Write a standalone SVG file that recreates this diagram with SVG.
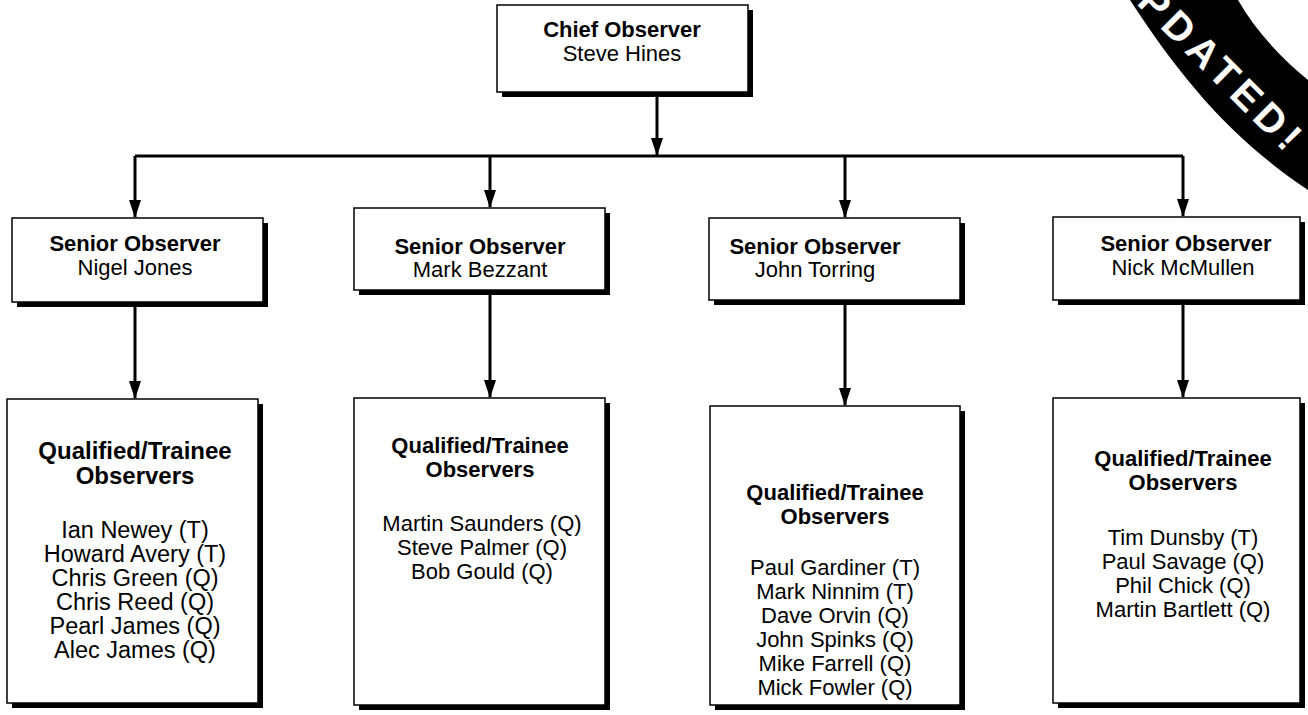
<svg xmlns="http://www.w3.org/2000/svg" width="1308" height="715" viewBox="0 0 1308 715">
<defs>
<marker id="ah" viewBox="0 0 18 12" refX="17" refY="6" markerWidth="18" markerHeight="12" markerUnits="userSpaceOnUse" orient="auto">
<path d="M0,0 L18,6 L0,12 Z" fill="#000"/>
</marker>
<style>
.box{fill:#fff;stroke:#000;stroke-width:1.5}
.sh{fill:#000}
.t{font-family:"Liberation Sans",Arial,sans-serif;font-size:22px;fill:#000;text-anchor:middle}
.b{font-weight:bold}
.big{font-size:23.5px}
.bigb{font-size:24px}
.c{fill:none;stroke:#000;stroke-width:3}
.ca{fill:none;stroke:#000;stroke-width:3;marker-end:url(#ah)}
</style>
</defs>
<rect width="1308" height="715" fill="#fff"/>
<g id="connectors">
<line class="ca" x1="657" y1="92" x2="657" y2="155"/>
<polyline class="c" points="135,156 1183,156"/>
<line class="ca" x1="135" y1="156" x2="135" y2="217"/>
<line class="ca" x1="490" y1="156" x2="490" y2="207"/>
<line class="ca" x1="845" y1="156" x2="845" y2="217"/>
<line class="ca" x1="1183" y1="156" x2="1183" y2="216"/>
<line class="ca" x1="135" y1="302" x2="135" y2="398"/>
<line class="ca" x1="490" y1="290" x2="490" y2="397"/>
<line class="ca" x1="845" y1="300" x2="845" y2="405"/>
<line class="ca" x1="1183" y1="300" x2="1183" y2="397"/>
</g>
<g id="chief">
<rect class="sh" x="502" y="10" width="251" height="87"/>
<rect class="box" x="497" y="5" width="251" height="87"/>
<text class="t b" x="622" y="37">Chief Observer</text>
<text class="t" x="622" y="61">Steve Hines</text>
</g>
<g id="senior1">
<rect class="sh" x="17" y="223" width="251" height="84"/>
<rect class="box" x="12" y="218" width="251" height="84"/>
<text class="t b" x="135" y="251">Senior Observer</text>
<text class="t" x="135" y="275">Nigel Jones</text>
</g>
<g id="senior2">
<rect class="sh" x="359" y="213" width="251" height="82"/>
<rect class="box" x="354" y="208" width="251" height="82"/>
<text class="t b" x="480" y="254">Senior Observer</text>
<text class="t" x="480" y="277">Mark Bezzant</text>
</g>
<g id="senior3">
<rect class="sh" x="714" y="223" width="251" height="82"/>
<rect class="box" x="709" y="218" width="251" height="82"/>
<text class="t b" x="815" y="254">Senior Observer</text>
<text class="t" x="815" y="277">John Torring</text>
</g>
<g id="senior4">
<rect class="sh" x="1058" y="222" width="247" height="83"/>
<rect class="box" x="1053" y="217" width="247" height="83"/>
<text class="t b" x="1186" y="251">Senior Observer</text>
<text class="t" x="1183" y="275">Nick McMullen</text>
</g>
<g id="team1">
<rect class="sh" x="12" y="404" width="251" height="304"/>
<rect class="box" x="7" y="399" width="251" height="304"/>
<text class="t b bigb" x="135" y="459">Qualified/Trainee</text>
<text class="t b bigb" x="135" y="484">Observers</text>
<text class="t big" x="135" y="538">Ian Newey (T)</text>
<text class="t big" x="135" y="562">Howard Avery (T)</text>
<text class="t big" x="135" y="586">Chris Green (Q)</text>
<text class="t big" x="135" y="610">Chris Reed (Q)</text>
<text class="t big" x="135" y="634">Pearl James (Q)</text>
<text class="t big" x="135" y="658">Alec James (Q)</text>
</g>
<g id="team2">
<rect class="sh" x="359" y="403" width="251" height="307"/>
<rect class="box" x="354" y="398" width="251" height="307"/>
<text class="t b" x="480" y="453">Qualified/Trainee</text>
<text class="t b" x="480" y="477">Observers</text>
<text class="t" x="482" y="531">Martin Saunders (Q)</text>
<text class="t" x="482" y="555">Steve Palmer (Q)</text>
<text class="t" x="482" y="579">Bob Gould (Q)</text>
</g>
<g id="team3">
<rect class="sh" x="715" y="411" width="250" height="299"/>
<rect class="box" x="710" y="406" width="250" height="299"/>
<text class="t b" x="835" y="500">Qualified/Trainee</text>
<text class="t b" x="835" y="524">Observers</text>
<text class="t" x="835" y="575">Paul Gardiner (T)</text>
<text class="t" x="835" y="599">Mark Ninnim (T)</text>
<text class="t" x="835" y="623">Dave Orvin (Q)</text>
<text class="t" x="835" y="647">John Spinks (Q)</text>
<text class="t" x="835" y="671">Mike Farrell (Q)</text>
<text class="t" x="835" y="695">Mick Fowler (Q)</text>
</g>
<g id="team4">
<rect class="sh" x="1058" y="403" width="247" height="305"/>
<rect class="box" x="1053" y="398" width="247" height="305"/>
<text class="t b" x="1183" y="466">Qualified/Trainee</text>
<text class="t b" x="1183" y="490">Observers</text>
<text class="t" x="1183" y="545">Tim Dunsby (T)</text>
<text class="t" x="1183" y="569">Paul Savage (Q)</text>
<text class="t" x="1183" y="593">Phil Chick (Q)</text>
<text class="t" x="1183" y="617">Martin Bartlett (Q)</text>
</g>
<g id="banner">
<path d="M1130,0 C1182,80 1233,140 1308,190 L1308,80 C1280,57 1255,30 1238,0 Z" fill="#000"/>
<text transform="translate(1210,58) rotate(45)" x="0" y="14" font-family="Liberation Sans, Arial, sans-serif" font-weight="bold" font-size="40" fill="#fff" text-anchor="middle" letter-spacing="6">UPDATED!</text>
</g>
</svg>
